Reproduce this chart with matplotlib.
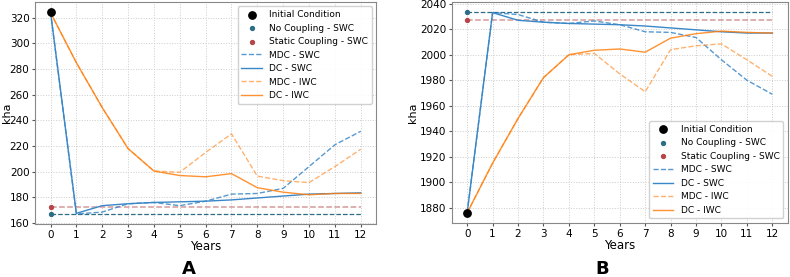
import matplotlib
matplotlib.use("Agg")
import matplotlib.pyplot as plt
import numpy as np

years = list(range(13))

# Panel A
a_init = 324.5
a_no_coupling = 167.0
a_static = 172.8
a_mdc_swc = [324.5, 167.0, 168.5, 175.0, 176.0, 173.5, 177.0, 182.5, 183.0, 187.0, 204.0, 221.0, 231.5]
a_dc_swc = [324.5, 167.5, 173.5, 175.0, 176.0, 176.5, 177.0, 178.0, 179.5, 181.0, 182.5, 183.0, 183.5]
a_mdc_iwc = [324.0, 285.0, 250.0, 218.0, 200.5, 199.5, 215.0, 229.5, 196.5, 193.0, 191.5, 204.0, 217.5]
a_dc_iwc = [324.0, 285.0, 250.0, 218.0, 200.5, 197.0, 196.0, 198.5, 187.5, 184.0, 182.0, 183.0, 183.0]

# Panel B
b_init = 1876.0
b_no_coupling = 2033.5
b_static = 2027.5
b_mdc_swc = [1876.0, 2033.0, 2031.5, 2025.5, 2024.5, 2026.5, 2023.5, 2018.0, 2017.5, 2013.5, 1996.0, 1980.0, 1969.0]
b_dc_swc = [1876.0, 2033.0, 2027.0, 2025.5, 2024.5, 2024.0, 2023.5, 2022.5, 2021.0, 2019.5, 2018.0, 2017.0, 2017.0]
b_mdc_iwc = [1876.0, 1915.0, 1950.0, 1982.0, 2000.0, 2001.0, 1985.0, 1971.0, 2004.0, 2007.0, 2008.5, 1996.0, 1983.0]
b_dc_iwc = [1876.0, 1915.0, 1950.0, 1982.0, 2000.0, 2003.5, 2004.5, 2002.0, 2013.0, 2016.5, 2018.5, 2017.5, 2017.0]

blue = '#3a87c8'
orange = '#ff7f0e'
teal = '#2c6e86'
red = '#b5474a'

plt.rcParams['font.family'] = ['DejaVu Sans']
fig = plt.figure(figsize=(7.9, 2.77), dpi=100)
axA = fig.add_axes([0.0443, 0.191, 0.432, 0.802])
axB = fig.add_axes([0.572, 0.195, 0.425, 0.798])


def draw(ax, init, nc, st, mdc_swc, dc_swc, mdc_iwc, dc_iwc, loc, label, lx, ylx):
    n = len(years)
    ax.plot(years, [nc] * n, color=teal, ls='--', lw=0.9, zorder=2)
    ax.plot(years, [st] * n, color=red, ls='--', lw=1.1, alpha=0.55, zorder=2)
    ax.scatter([0], [init], color='black', s=28, zorder=5, label='Initial Condition')
    ax.scatter([0], [nc], color=teal, s=8, zorder=5, label='No Coupling - SWC')
    ax.scatter([0], [st], color=red, s=8, zorder=5, label='Static Coupling - SWC')
    ax.plot(years, mdc_swc, color=blue, ls='--', lw=1.0, alpha=0.85, label='MDC - SWC')
    ax.plot(years, dc_swc, color=blue, lw=1.0, label='DC - SWC')
    ax.plot(years, mdc_iwc, color=orange, ls='--', lw=1.0, alpha=0.6, label='MDC - IWC')
    ax.plot(years, dc_iwc, color=orange, lw=1.0, alpha=0.85, label='DC - IWC')
    ax.set_xticks(years)
    ax.tick_params(labelsize=7.5, length=2, pad=2, color='#555555')
    ax.set_xlabel('Years', fontsize=8.5, labelpad=0)
    ax.set_ylabel('kha', fontsize=8)
    ax.yaxis.set_label_coords(ylx, 0.5)
    ax.grid(True, ls=':', color='#cccccc', lw=0.7)
    for s in ax.spines.values():
        s.set_color('#888888')
    ax.legend(loc=loc, fontsize=6.5, framealpha=0.9, handlelength=2.3,
              borderpad=0.4, labelspacing=0.5)
    fig.text(lx, 1 - 269.5 / 277, label, ha='center', va='center',
             fontsize=13, fontweight='bold')


draw(axA, a_init, a_no_coupling, a_static, a_mdc_swc, a_dc_swc, a_mdc_iwc, a_dc_iwc,
     'upper right', 'A', 189 / 790, -0.066)
draw(axB, b_init, b_no_coupling, b_static, b_mdc_swc, b_dc_swc, b_mdc_iwc, b_dc_iwc,
     'lower right', 'B', 602 / 790, -0.10)

fig.savefig('out.png', dpi=100)
